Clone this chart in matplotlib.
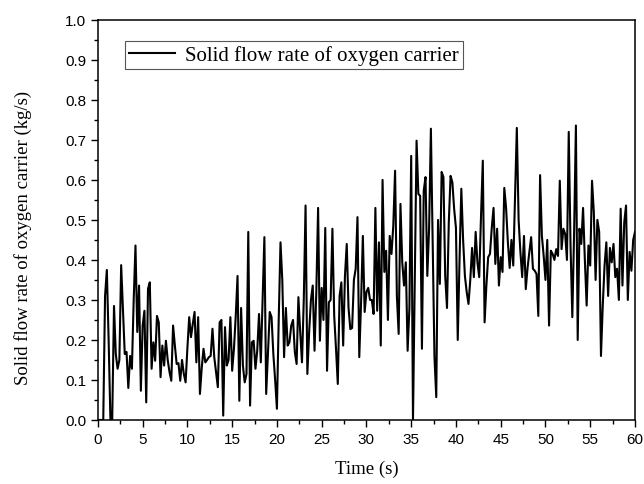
import numpy as np
import matplotlib
matplotlib.use("Agg")
from matplotlib import pyplot as plt
from matplotlib.ticker import MultipleLocator

# solid flow rate, one value every 0.2 s
flow_00_10 = [0.0, 0.0, 0.0, 0.0, 0.31, 0.375, 0.2, 0.0, 0.0, 0.285,
              0.165, 0.128, 0.15, 0.387, 0.277, 0.165, 0.17, 0.08, 0.16, 0.128,
              0.30, 0.436, 0.22, 0.336, 0.073, 0.236, 0.273, 0.044, 0.328, 0.344,
              0.128, 0.194, 0.148, 0.26, 0.244, 0.107, 0.186, 0.136, 0.198, 0.15,
              0.12, 0.098, 0.236, 0.186, 0.14, 0.142, 0.098, 0.15, 0.115, 0.094,
              0.18]
flow_10_20 = [0.257, 0.207, 0.24, 0.27, 0.144, 0.257, 0.065, 0.13, 0.178, 0.144,
              0.15, 0.157, 0.16, 0.228, 0.157, 0.12, 0.082, 0.244, 0.25, 0.011,
              0.232, 0.136, 0.15, 0.257, 0.123, 0.178, 0.26, 0.36, 0.048, 0.28,
              0.136, 0.094, 0.115, 0.47, 0.036, 0.194, 0.198, 0.128, 0.173, 0.265,
              0.144, 0.30, 0.457, 0.065, 0.17, 0.27, 0.257, 0.165, 0.10, 0.028]
flow_20_30 = [0.25, 0.444, 0.35, 0.157, 0.28, 0.186, 0.194, 0.236, 0.25, 0.17,
              0.14, 0.307, 0.22, 0.144, 0.30, 0.536, 0.115, 0.22, 0.30, 0.336,
              0.173, 0.32, 0.53, 0.198, 0.33, 0.25, 0.48, 0.123, 0.294, 0.30,
              0.478, 0.26, 0.178, 0.09, 0.31, 0.344, 0.186, 0.36, 0.44, 0.28,
              0.227, 0.23, 0.35, 0.378, 0.507, 0.157, 0.294, 0.46, 0.27, 0.32]
flow_30_40 = [0.33, 0.30, 0.30, 0.265, 0.53, 0.273, 0.444, 0.186, 0.60, 0.37,
              0.423, 0.25, 0.46, 0.415, 0.486, 0.623, 0.31, 0.215, 0.54, 0.394,
              0.336, 0.394, 0.173, 0.28, 0.66, 0.0, 0.35, 0.698, 0.565, 0.56,
              0.178, 0.573, 0.607, 0.36, 0.478, 0.728, 0.436, 0.157, 0.057, 0.5,
              0.34, 0.62, 0.607, 0.36, 0.28, 0.494, 0.61, 0.594, 0.527, 0.48]
flow_40_50 = [0.2, 0.40, 0.578, 0.45, 0.36, 0.32, 0.29, 0.35, 0.43, 0.357,
              0.47, 0.394, 0.357, 0.51, 0.648, 0.244, 0.336, 0.407, 0.415, 0.48,
              0.53, 0.39, 0.478, 0.336, 0.407, 0.37, 0.58, 0.53, 0.444, 0.38,
              0.45, 0.386, 0.56, 0.73, 0.5, 0.42, 0.357, 0.46, 0.327, 0.38,
              0.42, 0.457, 0.378, 0.373, 0.365, 0.26, 0.612, 0.46, 0.41, 0.35]
flow_50_60 = [0.45, 0.236, 0.423, 0.415, 0.40, 0.427, 0.41, 0.598, 0.427, 0.478,
              0.465, 0.40, 0.72, 0.436, 0.257, 0.47, 0.736, 0.20, 0.478, 0.44,
              0.53, 0.40, 0.286, 0.436, 0.386, 0.598, 0.52, 0.35, 0.50, 0.47,
              0.16, 0.286, 0.386, 0.444, 0.31, 0.43, 0.394, 0.44, 0.357, 0.378,
              0.30, 0.528, 0.336, 0.494, 0.536, 0.30, 0.42, 0.373, 0.45, 0.47]

flow = flow_00_10 + flow_10_20 + flow_20_30 + flow_30_40 + flow_40_50 + flow_50_60
time = np.linspace(0, 60, len(flow))

serif = ['Liberation Serif', 'DejaVu Serif']
sans = ['Liberation Sans', 'DejaVu Sans']

fig = plt.figure(figsize=(6.44, 4.85), dpi=100)
ax = fig.add_axes([0.152, 0.132, 0.834, 0.825])

ax.plot(time, flow, color='black', lw=1.5, label='Solid flow rate of oxygen carrier')

ax.set_xlim(0, 60)
ax.set_ylim(0, 1.0)
ax.xaxis.set_major_locator(MultipleLocator(5))
ax.xaxis.set_minor_locator(MultipleLocator(2.5))
ax.yaxis.set_major_locator(MultipleLocator(0.1))
ax.yaxis.set_minor_locator(MultipleLocator(0.05))
ax.tick_params(which='both', direction='out', top=False, right=False, width=1)
ax.tick_params(which='major', length=5, labelsize=11)
ax.tick_params(which='minor', length=3)
ax.set_xticklabels([f'{int(v)}' for v in ax.get_xticks()], family=sans)
ax.set_yticklabels([f'{v:.1f}' for v in ax.get_yticks()], family=sans)
for s in ax.spines.values():
    s.set_linewidth(1.1)

ax.set_xlabel('Time (s)', family=serif, fontsize=13.5, labelpad=10)
ax.set_ylabel('Solid flow rate of oxygen carrier (kg/s)', family=serif, fontsize=13.5)
ax.yaxis.set_label_coords(-0.123, 0.458)

leg = ax.legend(loc='upper left', bbox_to_anchor=(0.05, 0.947), borderaxespad=0,
                fancybox=False, prop={'family': serif, 'size': 15}, handlelength=2.2,
                handletextpad=0.5, borderpad=0.2, framealpha=1)
leg.get_frame().set_edgecolor('#555555')
leg.get_frame().set_linewidth(0.8)

fig.savefig('out.png', dpi=100)
